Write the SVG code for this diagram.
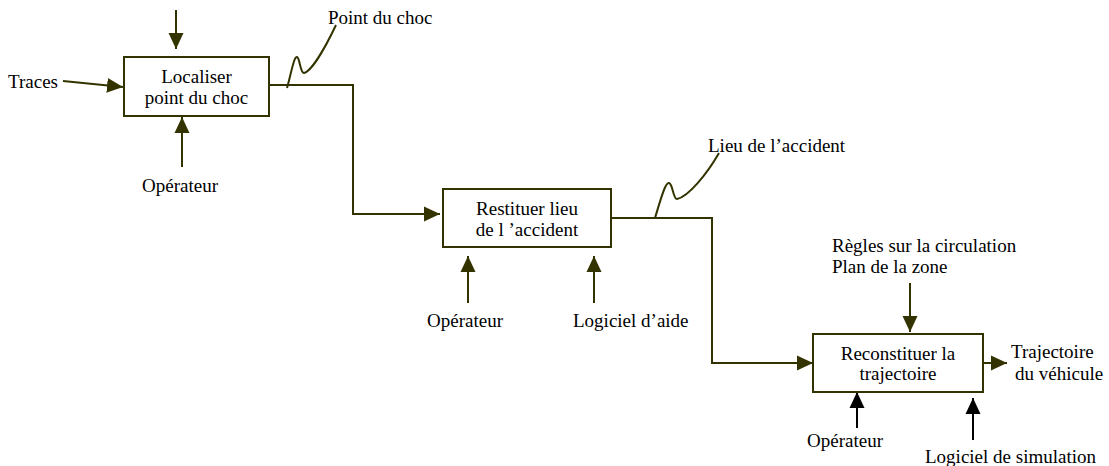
<svg xmlns="http://www.w3.org/2000/svg" width="1109" height="466" viewBox="0 0 1109 466">
<style>
text{font-family:"Liberation Serif","Times New Roman",serif;font-size:19px;fill:#000}
.box{fill:#fff;stroke:#333300;stroke-width:2}
.ln{fill:none;stroke:#333300;stroke-width:2}
.lk{fill:none;stroke:#000;stroke-width:2}
.c{text-anchor:middle}
</style>
<defs>
<marker id="ah" markerUnits="userSpaceOnUse" markerWidth="16" markerHeight="16" refX="16" refY="8" orient="auto"><path d="M0,0.5 L16,8 L0,15.5 z" fill="#333300"/></marker>
<marker id="ak" markerUnits="userSpaceOnUse" markerWidth="16" markerHeight="16" refX="16" refY="8" orient="auto"><path d="M0,0.5 L16,8 L0,15.5 z" fill="#000"/></marker>
</defs>
<g id="connectors">
<line class="ln" x1="176" y1="10" x2="176" y2="49" marker-end="url(#ah)"/>
<line class="ln" x1="63" y1="81" x2="123" y2="87" marker-end="url(#ah)"/>
<line class="ln" x1="182" y1="167" x2="182" y2="117" marker-end="url(#ah)"/>
<polyline class="ln" points="267,85 353,85 353,214 440,214" marker-end="url(#ah)"/>
<path class="ln" stroke-width="1.5" d="M287,88 C291,74 294,56 297,57 C300,58 300,73 304,73 C312,71 326,46 336,25"/>
<line class="ln" x1="468" y1="303" x2="468" y2="256" marker-end="url(#ah)"/>
<line class="ln" x1="594" y1="303" x2="594" y2="256" marker-end="url(#ah)"/>
<polyline class="ln" points="611,218 712,218 712,363 813,363" marker-end="url(#ah)"/>
<path class="ln" stroke-width="1.5" d="M655,218 C660,202 665,182 669,183 C673,184 673,199 677,199 C688,197 707,174 719,153"/>
<line class="ln" x1="910" y1="283" x2="910" y2="332" marker-end="url(#ah)"/>
<line class="ln" x1="983" y1="363" x2="1007" y2="363" marker-end="url(#ah)"/>
<line class="lk" x1="857" y1="428" x2="857" y2="392" marker-end="url(#ak)"/>
<line class="lk" x1="973" y1="440" x2="973" y2="398" marker-end="url(#ak)"/>
</g>
<g id="n1">
<rect class="box" x="124" y="57" width="145" height="59"/>
<text class="c" x="196.5" y="83">Localiser</text>
<text class="c" x="196.5" y="104">point du choc</text>
</g>
<g id="n2">
<rect class="box" x="443" y="189" width="168" height="58"/>
<text class="c" x="527" y="215">Restituer lieu</text>
<text class="c" x="527" y="236">de l ’accident</text>
</g>
<g id="n3">
<rect class="box" x="813" y="334" width="170" height="58"/>
<text class="c" x="898" y="360">Reconstituer la</text>
<text class="c" x="898" y="380">trajectoire</text>
</g>
<g id="labels">
<text x="8" y="88">Traces</text>
<text x="142" y="192">Opérateur</text>
<text x="328" y="24">Point du choc</text>
<text x="708" y="152">Lieu de l’accident</text>
<text x="427" y="327">Opérateur</text>
<text x="573" y="327">Logiciel d’aide</text>
<text x="832" y="252">Règles sur la circulation</text>
<text x="832" y="273">Plan de la zone</text>
<text x="1011" y="358">Trajectoire</text>
<text x="1015" y="380">du véhicule</text>
<text x="807" y="447">Opérateur</text>
<text x="925" y="463">Logiciel de simulation</text>
</g>
</svg>
